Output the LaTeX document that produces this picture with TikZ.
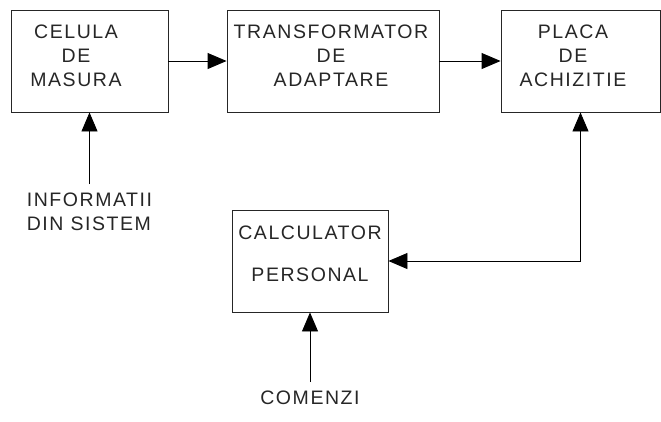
\documentclass[tikz,border=0pt]{standalone}
\usepackage{fontspec}
\setmainfont{Liberation Sans}[LetterSpace=8]
\usetikzlibrary{arrows.meta, positioning}

\tikzset{
  blok/.style={draw=black!85, line width=0.9pt, inner sep=0pt},
  eticheta/.style={font=\fontsize{19.5}{24}\selectfont, align=center, inner sep=2pt, text=black!85},
  intrare/.style={eticheta, anchor=north, inner ysep=9pt},
  flux/.style={line width=0.9pt, -{Triangle[length=19pt, width=16pt]}}
}

\begin{document}
\begin{tikzpicture}[x=1pt, y=-1pt]
  \useasboundingbox (0,0) rectangle (661,421);
  % Blocurile principale
  \node[blok, minimum width=157pt, minimum height=102pt] (celula) at (89.5,61) {};
  \node[blok, minimum width=212pt, minimum height=102pt] (transf) at (333,61) {};
  \node[blok, minimum width=159pt, minimum height=102pt] (placa) at (580.5,61) {};
  \node[blok, minimum width=156pt, minimum height=102pt] (calc) at (310,261) {};
  % Textele din blocuri
  \node[eticheta] (celula-txt) at (76,56) {CELULA\\DE\\MASURA};
  \node[eticheta] (transf-txt) at (331,56) {TRANSFORMATOR\\DE\\ADAPTARE};
  \node[eticheta] (placa-txt) at (573,56) {PLACA\\DE\\ACHIZITIE};
  \node[eticheta] (calc-txt) at (310,254) {CALCULATOR\\[18pt]PERSONAL};
  % Intrari
  \node[intrare, align=left] (info) at (89.5,184) {INFORMATII\\DIN SISTEM};
  \node[intrare] (comenzi) at (310,382) {COMENZI};
  % Legaturi
  \draw[flux] (celula.east) -- (transf.west);
  \draw[flux] (transf.east) -- (placa.west);
  \draw[flux] (info.north) -- (celula.south);
  \draw[flux] (comenzi.north) -- (calc.south);
  \draw[flux, {Triangle[length=19pt, width=16pt]}-{Triangle[length=19pt, width=16pt]}]
    (calc.east) -| (placa.south);
\end{tikzpicture}
\end{document}
